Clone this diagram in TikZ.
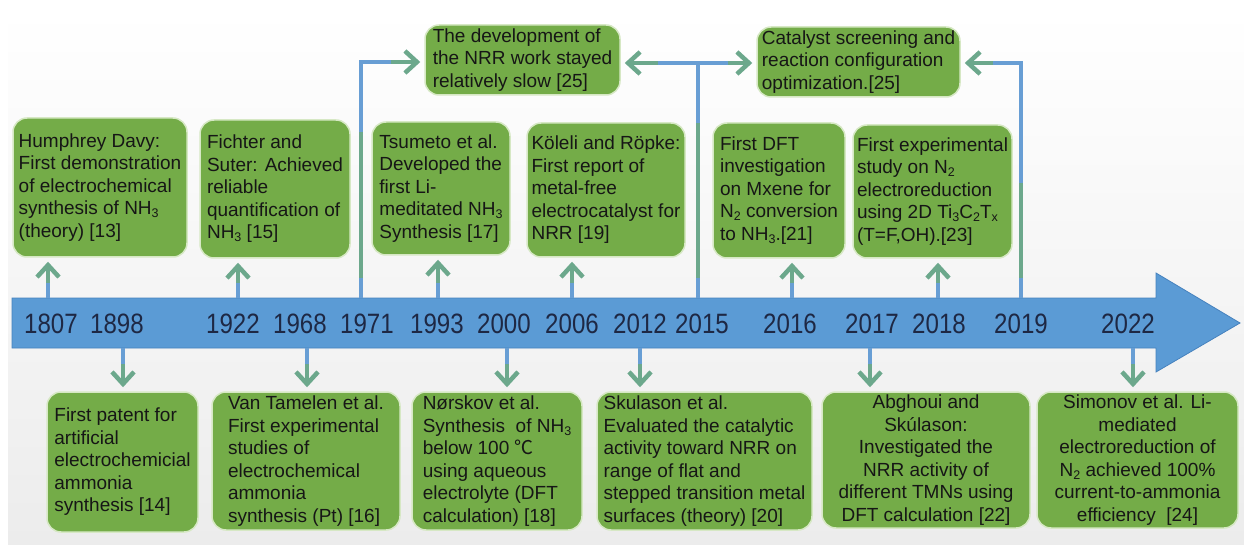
\documentclass[tikz,border=0pt]{standalone}
\usepackage{fontspec}
\setmainfont{Liberation Sans}
\newfontfamily\cjk{Noto Sans CJK SC}
\newfontfamily\yearfont{Liberation Sans}[FakeStretch=0.86]
\usetikzlibrary{arrows.meta,calc}
\definecolor{boxg}{RGB}{116,172,72}
\definecolor{boxedge}{RGB}{214,232,196}
\definecolor{tlblue}{RGB}{91,155,213}
\definecolor{tledge}{RGB}{70,130,190}
\definecolor{yeartxt}{RGB}{30,40,68}
\definecolor{txt}{RGB}{22,22,22}
\definecolor{tealc}{RGB}{108,168,140}
\definecolor{bluec}{RGB}{104,158,212}
\definecolor{bgbot}{RGB}{236,236,236}
\newcommand\dn[1]{\raisebox{-3pt}{\fontsize{12.5}{12.5}\selectfont #1}}
\begin{document}
\begin{tikzpicture}[x=1pt,y=-1pt,
  gbox/.style={draw=boxedge,line width=1.5pt,fill=boxg,rounded corners=14pt,inner sep=2pt,text=txt,font=\fontsize{19}{22.5}\selectfont,align=left},
  cbox/.style={gbox,align=center},
  yr/.style={text=yeartxt,font=\yearfont\fontsize{28}{28}\selectfont,inner sep=0pt},
  conn/.style={draw=tealc,line width=4pt},
  ahead/.style={-{Straight Barb[length=12pt,width=22pt,line width=4.5pt]},shorten >=4pt},
  bseg/.style={draw=bluec,line width=4pt}]
\useasboundingbox (0,0) rectangle (1244,545);
\shade[top color=white,bottom color=bgbot] (8,9) rectangle (1244,545);

% timeline
\filldraw[fill=tlblue,draw=tledge,line width=0.8pt] (12,298) -- (1156,298) -- (1156,273) -- (1240,323) -- (1156,372) -- (1156,348) -- (12,348) -- cycle;

% years
\node[yr] (y1807) at (51,324) {1807};
\node[yr] (y1898) at (117,324) {1898};
\node[yr] (y1922) at (233,324) {1922};
\node[yr] (y1968) at (300,324) {1968};
\node[yr] (y1971) at (367,324) {1971};
\node[yr] (y1993) at (437,324) {1993};
\node[yr] (y2000) at (504,324) {2000};
\node[yr] (y2006) at (572,324) {2006};
\node[yr] (y2012) at (640,324) {2012};
\node[yr] (y2015) at (702,324) {2015};
\node[yr] (y2016) at (790,324) {2016};
\node[yr] (y2017) at (872,324) {2017};
\node[yr] (y2018) at (939,324) {2018};
\node[yr] (y2019) at (1021,324) {2019};
\node[yr] (y2022) at (1128,324) {2022};

% top boxes
\node[gbox,minimum width=174pt,minimum height=139pt] (hum) at (100,187.5) {Humphrey Davy:\\First demonstration\\of electrochemical\\synthesis of NH\dn{3}\\(theory) [13]};
\node[gbox,minimum width=150pt,minimum height=138pt] (fic) at (275,189) {Fichter and\\Suter: Achieved\\reliable\\quantification of\\NH\dn{3} [15]};
\node[gbox,minimum width=138pt,minimum height=133pt] (tsu) at (441,188.5) {Tsumeto et al.\\Developed the\\first Li-\\meditated NH\dn{3}\\Synthesis [17]};
\node[gbox,minimum width=158pt,minimum height=134pt] (kol) at (606,190) {Köleli and Röpke:\\First report of\\metal-free\\electrocatalyst for\\NRR [19]};
\node[gbox,minimum width=132pt,minimum height=135pt] (dft) at (779,190.5) {First DFT\\investigation\\on Mxene for\\N\dn{2} conversion\\to NH\dn{3}.[21]};
\node[gbox,minimum width=159pt,minimum height=133pt] (exp) at (932.5,191.5) {First experimental\\study on N\dn{2}\\electroreduction\\using 2D Ti\dn{3}C\dn{2}T\dn{x}\\(T=F,OH).[23]};

\node[gbox,minimum width=195pt,minimum height=70pt] (dev) at (522.5,60) {The development of\\the NRR work stayed\\relatively slow [25]};
\node[gbox,minimum width=203pt,minimum height=70pt] (cat) at (858.5,62) {Catalyst screening and\\reaction configuration\\optimization.[25]};

% bottom boxes
\node[gbox,minimum width=151pt,minimum height=140pt] (pat) at (122.5,462) {First patent for\\artificial\\electrochemicial\\ammonia\\synthesis [14]};
\node[gbox,minimum width=188pt,minimum height=138pt] (van) at (306,461) {Van Tamelen et al.\\First experimental\\studies of\\electrochemical\\ammonia\\synthesis (Pt) [16]};
\node[gbox,minimum width=170pt,minimum height=138pt] (nor) at (497,461) {Nørskov et al.\\Synthesis\ \ of NH\dn{3}\\below 100 {\cjk ℃}\\using aqueous\\electrolyte (DFT\\calculation) [18]};
\node[gbox,minimum width=215pt,minimum height=138pt] (sku) at (704.5,461) {Skulason et al.\\Evaluated the catalytic\\activity toward NRR on\\range of flat and\\stepped transition metal\\surfaces (theory) [20]};
\node[cbox,minimum width=208pt,minimum height=136pt] (abg) at (926,460) {Abghoui and\\Skúlason:\\Investigated the\\NRR activity of\\different TMNs using\\DFT calculation [22]};
\node[cbox,minimum width=201pt,minimum height=136pt] (sim) at (1137.5,460) {Simonov et al. Li-\\mediated\\electroreduction of\\N\dn{2} achieved 100\%\\current-to-ammonia\\efficiency\ \ [24]};

% up arrows
\foreach \nm/\xx/\bx in {1807/48/hum,1922/238/fic,1993/438/tsu,2006/572/kol,2016/792/dft,2018/938/exp}{
  \coordinate (t\nm) at (\xx,298);
  \draw[conn,ahead] (t\nm) -- (t\nm |- \bx.south);
  \draw[bseg] (t\nm) -- ++(0,-15);
}
% down arrows
\foreach \nm/\xx/\bx in {1898/123/pat,1968/307/van,2000/507/nor,2012/640/sku,2017/870/abg,2022/1133/sim}{
  \coordinate (t\nm) at (\xx,348);
  \draw[conn,ahead] (t\nm) -- (t\nm |- \bx.north);
  \draw[bseg] (t\nm) -- ++(0,16);
}

% bracket connectors
\coordinate (t1971) at (361,298);
\coordinate (c1971) at (361,62);
\draw[conn,ahead] (t1971) -- (c1971) -- (c1971 -| dev.west);
\draw[bseg] ($(c1971)+(0,70)$) -- (c1971) -- ($(c1971)+(30,0)$);
\draw[bseg] (t1971) -- ++(0,-20);

\coordinate (t2015) at (698,298);
\coordinate (c2015) at (698,63);
\draw[conn] (t2015) -- (c2015);
\draw[conn,ahead] (c2015) -- (c2015 -| dev.east);
\draw[conn,ahead] (c2015) -- (c2015 -| cat.west);
\draw[bseg] ($(c2015)+(-40,0)$) -- ($(c2015)+(30,0)$);
\draw[bseg] (c2015) -- ++(0,60);
\draw[bseg] (t2015) -- ++(0,-20);

\coordinate (t2019) at (1021,298);
\coordinate (c2019) at (1021,63);
\draw[conn,ahead] (t2019) -- (c2019) -- (c2019 -| cat.east);
\draw[bseg] ($(c2019)+(0,120)$) -- (c2019) -- ($(c2019)+(-28,0)$);
\draw[bseg] (t2019) -- ++(0,-20);
\end{tikzpicture}
\end{document}
